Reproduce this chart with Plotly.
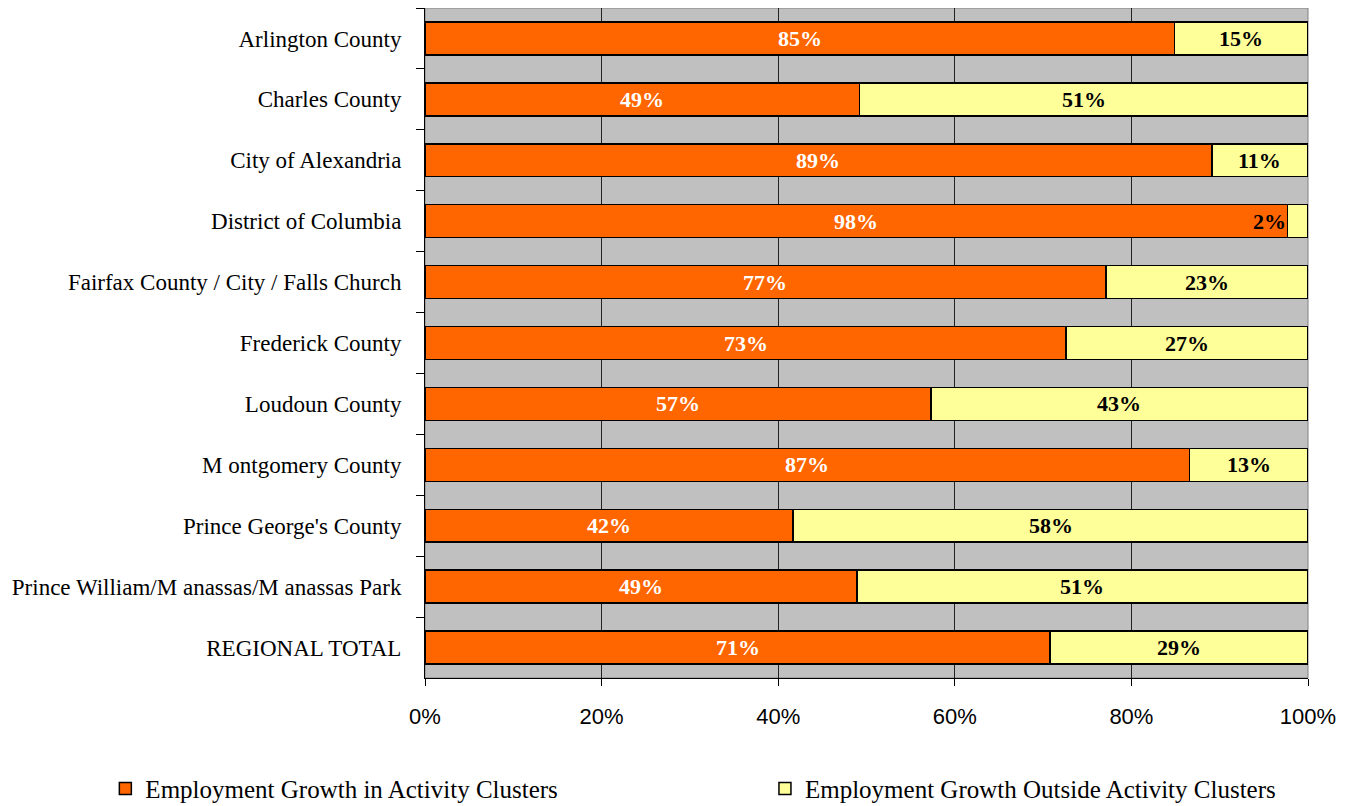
import plotly.graph_objects as go

categories = [
    "Arlington County",
    "Charles County",
    "City of Alexandria",
    "District of Columbia",
    "Fairfax County / City / Falls Church",
    "Frederick County",
    "Loudoun County",
    "M ontgomery County",
    "Prince George's County",
    "Prince William/M anassas/M anassas Park",
    "REGIONAL TOTAL",
]
in_clusters = [84.9, 49.2, 89.1, 97.7, 77.1, 72.6, 57.3, 86.6, 41.7, 48.9, 70.8]
outside_clusters = [15.1, 50.8, 10.9, 2.3, 22.9, 27.4, 42.7, 13.4, 58.3, 51.1, 29.2]
in_labels = ["85%", "49%", "89%", "98%", "77%", "73%", "57%", "87%", "42%", "49%", "71%"]
out_labels = ["15%", "51%", "11%", "2%", "23%", "27%", "43%", "13%", "58%", "51%", "29%"]
x_ticks = [0, 20, 40, 60, 80, 100]
x_tick_labels = ["0%", "20%", "40%", "60%", "80%", "100%"]

series_names = ["Employment Growth in Activity Clusters", "Employment Growth Outside Activity Clusters"]

ORANGE = "#FF6600"
YELLOW = "#FFFF99"
SERIF = "Liberation Serif, Times New Roman, serif"
SANS = "Liberation Sans, Arial, sans-serif"

fig = go.Figure()
fig.add_trace(go.Bar(
    y=categories, x=in_clusters, orientation="h", name=series_names[0],
    marker=dict(color=ORANGE, line=dict(color="black", width=1.5)),
    hoverinfo="skip", legend="legend",
))
fig.add_trace(go.Bar(
    y=categories, x=outside_clusters, orientation="h", name=series_names[1],
    marker=dict(color=YELLOW, line=dict(color="black", width=1.5)),
    hoverinfo="skip", legend="legend2",
))

annotations = []
for cat, a, b, la, lb in zip(categories, in_clusters, outside_clusters, in_labels, out_labels):
    annotations.append(dict(x=a / 2, y=cat, xref="x", yref="y", text="<b>%s</b>" % la,
                            showarrow=False, font=dict(family=SERIF, size=22, color="white")))
    if b < 5:
        annotations.append(dict(x=a, y=cat, xref="x", yref="y", text="<b>%s</b>" % lb,
                                xanchor="right", showarrow=False,
                                font=dict(family=SERIF, size=22, color="black")))
    else:
        annotations.append(dict(x=a + b / 2, y=cat, xref="x", yref="y", text="<b>%s</b>" % lb,
                                showarrow=False, font=dict(family=SERIF, size=22, color="black")))

legend_font = dict(family=SERIF, size=25, color="black")
fig.update_layout(
    barmode="stack",
    bargap=0.46,
    width=1346, height=798,
    margin=dict(l=417, r=46, t=0, b=128, autoexpand=False),
    paper_bgcolor="white",
    plot_bgcolor="#C0C0C0",
    showlegend=True,
    legend=dict(orientation="h", x=-0.362, y=-0.131, xanchor="left", yanchor="top",
                font=legend_font, itemwidth=30, bgcolor="rgba(0,0,0,0)"),
    legend2=dict(orientation="h", x=0.385, y=-0.131, xanchor="left", yanchor="top",
                 font=legend_font, itemwidth=30, bgcolor="rgba(0,0,0,0)"),
    annotations=annotations,
    shapes=[dict(type="rect", xref="paper", yref="paper", x0=0, x1=1, y0=0, y1=1,
                 line=dict(color="#808080", width=1), layer="below")],
)
fig.update_xaxes(
    range=[0, 100], tickvals=x_ticks, ticktext=x_tick_labels,
    showgrid=True, gridcolor="#222222", gridwidth=1,
    showline=True, linecolor="black", linewidth=1,
    ticks="outside", ticklen=7, tickcolor="black",
    tickfont=dict(family=SANS, size=22, color="black"),
    ticklabelstandoff=12, zeroline=False, fixedrange=True,
)
fig.update_yaxes(
    categoryorder="array", categoryarray=categories, autorange="reversed",
    showline=True, linecolor="black", linewidth=1,
    ticks="outside", ticklen=8, tickcolor="black", tickson="boundaries",
    showgrid=False,
    tickfont=dict(family=SERIF, size=23, color="black"),
    ticklabelstandoff=18, fixedrange=True,
)

fig.write_html("out.html")
